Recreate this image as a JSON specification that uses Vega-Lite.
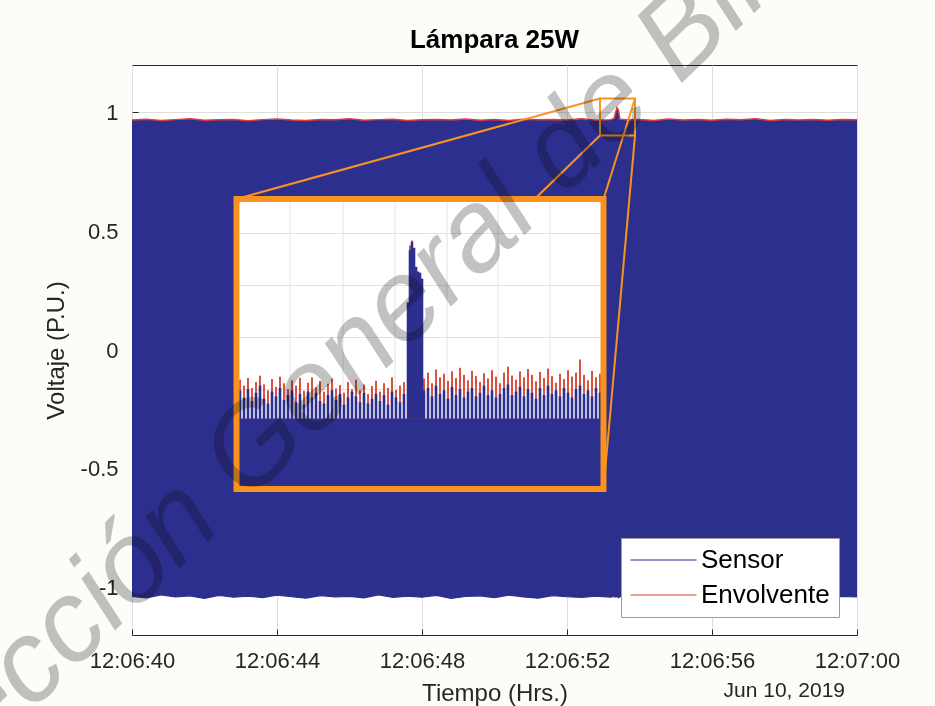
{
  "$schema": "https://vega.github.io/schema/vega-lite/v6.json",
  "width": 725,
  "height": 570,
  "autosize": {"type": "none"},
  "padding": {"left": 132, "top": 65, "right": 78, "bottom": 71},
  "background": "#fcfcf8",
  "config": {
    "view": {"stroke": "#262626", "strokeWidth": 1, "fill": "#ffffff"},
    "axis": {"labelFont": "Liberation Sans", "titleFont": "Liberation Sans", "labelColor": "#262626", "titleColor": "#262626", "titleFontWeight": "normal", "gridColor": "#dedede", "gridWidth": 1, "domain": false, "tickColor": "#262626", "labelFlush": false, "labelOverlap": false}
  },
  "datasets": {
    "main": [
      {"t":0.0,"hi":0.968,"lo":-1.038},{"t":0.4,"hi":0.972,"lo":-1.044},{"t":0.8,"hi":0.966,"lo":-1.031},{"t":1.2,"hi":0.970,"lo":-1.040},
      {"t":1.6,"hi":0.974,"lo":-1.035},{"t":2.0,"hi":0.967,"lo":-1.046},{"t":2.4,"hi":0.969,"lo":-1.033},{"t":2.8,"hi":0.971,"lo":-1.041},
      {"t":3.2,"hi":0.965,"lo":-1.036},{"t":3.6,"hi":0.970,"lo":-1.043},{"t":4.0,"hi":0.973,"lo":-1.032},{"t":4.4,"hi":0.968,"lo":-1.039},
      {"t":4.8,"hi":0.966,"lo":-1.045},{"t":5.2,"hi":0.971,"lo":-1.034},{"t":5.6,"hi":0.969,"lo":-1.040},{"t":6.0,"hi":0.974,"lo":-1.037},
      {"t":6.4,"hi":0.967,"lo":-1.044},{"t":6.8,"hi":0.970,"lo":-1.031},{"t":7.2,"hi":0.972,"lo":-1.042},{"t":7.6,"hi":0.966,"lo":-1.036},
      {"t":8.0,"hi":0.969,"lo":-1.041},{"t":8.4,"hi":0.971,"lo":-1.033},{"t":8.8,"hi":0.968,"lo":-1.046},{"t":9.2,"hi":0.973,"lo":-1.038},
      {"t":9.6,"hi":0.967,"lo":-1.035},{"t":10.0,"hi":0.970,"lo":-1.043},{"t":10.4,"hi":0.966,"lo":-1.032},{"t":10.8,"hi":0.972,"lo":-1.040},
      {"t":11.2,"hi":0.969,"lo":-1.045},{"t":11.6,"hi":0.971,"lo":-1.034},{"t":12.0,"hi":0.968,"lo":-1.039},{"t":12.4,"hi":0.974,"lo":-1.042},
      {"t":12.8,"hi":0.967,"lo":-1.036},{"t":13.2,"hi":0.970,"lo":-1.041},{"t":13.30,"hi":0.975,"lo":-1.038},{"t":13.34,"hi":1.000,"lo":-1.040},
      {"t":13.38,"hi":1.020,"lo":-1.037},{"t":13.42,"hi":1.008,"lo":-1.043},{"t":13.46,"hi":0.972,"lo":-1.039},{"t":13.6,"hi":0.969,"lo":-1.035},
      {"t":14.0,"hi":0.971,"lo":-1.044},{"t":14.4,"hi":0.966,"lo":-1.033},{"t":14.8,"hi":0.973,"lo":-1.040},{"t":15.2,"hi":0.968,"lo":-1.037},
      {"t":15.6,"hi":0.970,"lo":-1.045},{"t":16.0,"hi":0.967,"lo":-1.032},{"t":16.4,"hi":0.972,"lo":-1.041},{"t":16.8,"hi":0.969,"lo":-1.036},
      {"t":17.2,"hi":0.974,"lo":-1.043},{"t":17.6,"hi":0.966,"lo":-1.034},{"t":18.0,"hi":0.970,"lo":-1.039},{"t":18.4,"hi":0.968,"lo":-1.046},
      {"t":18.8,"hi":0.971,"lo":-1.035},{"t":19.2,"hi":0.967,"lo":-1.042},{"t":19.6,"hi":0.970,"lo":-1.038},{"t":20.0,"hi":0.969,"lo":-1.040}
    ],
    "connectors": [
      {"t":12.910,"v":1.059,"t2":2.883,"v2":0.6358},
      {"t":13.876,"v":1.059,"t2":13.007,"v2":0.6358},
      {"t":12.910,"v":0.903,"t2":2.883,"v2":-0.5853},
      {"t":13.876,"v":0.903,"t2":13.007,"v2":-0.5853}
    ],
    "zoombox": [{"t":12.910,"t2":13.876,"v":1.059,"v2":0.903}],
    "insetbox": [{"t":2.883,"t2":13.007,"v":0.6358,"v2":-0.5853}],
    "insetbase": [{"t":2.883,"t2":13.007,"v":-0.5853,"v2":-0.288}],
    "insetgrid": [
      {"t":4.359,"t2":4.359,"v":0.6358,"v2":-0.5853},{"t":5.821,"t2":5.821,"v":0.6358,"v2":-0.5853},
      {"t":7.255,"t2":7.255,"v":0.6358,"v2":-0.5853},{"t":8.690,"t2":8.690,"v":0.6358,"v2":-0.5853},
      {"t":10.097,"t2":10.097,"v":0.6358,"v2":-0.5853},{"t":11.531,"t2":11.531,"v":0.6358,"v2":-0.5853},
      {"t":2.883,"t2":13.007,"v":0.4905,"v2":0.4905},{"t":2.883,"t2":13.007,"v":0.2716,"v2":0.2716},
      {"t":2.883,"t2":13.007,"v":0.0526,"v2":0.0526},{"t":2.883,"t2":13.007,"v":-0.1663,"v2":-0.1663},
      {"t":2.883,"t2":13.007,"v":-0.3853,"v2":-0.3853}
    ],
    "insetnoise": [
      {"t":2.979,"r":-0.125,"b":-0.170},{"t":3.090,"r":-0.150,"b":-0.200},{"t":3.200,"r":-0.118,"b":-0.165},{"t":3.310,"r":-0.160,"b":-0.215},
      {"t":3.421,"r":-0.135,"b":-0.180},{"t":3.531,"r":-0.108,"b":-0.150},{"t":3.641,"r":-0.145,"b":-0.205},{"t":3.752,"r":-0.170,"b":-0.225},
      {"t":3.862,"r":-0.122,"b":-0.175},{"t":3.972,"r":-0.155,"b":-0.195},{"t":4.083,"r":-0.112,"b":-0.160},{"t":4.193,"r":-0.140,"b":-0.210},
      {"t":4.303,"r":-0.165,"b":-0.190},{"t":4.414,"r":-0.128,"b":-0.170},{"t":4.524,"r":-0.150,"b":-0.220},{"t":4.634,"r":-0.118,"b":-0.185},
      {"t":4.745,"r":-0.172,"b":-0.230},{"t":4.855,"r":-0.138,"b":-0.175},{"t":4.965,"r":-0.115,"b":-0.200},{"t":5.076,"r":-0.158,"b":-0.180},
      {"t":5.186,"r":-0.130,"b":-0.215},{"t":5.296,"r":-0.175,"b":-0.225},{"t":5.407,"r":-0.142,"b":-0.190},{"t":5.517,"r":-0.120,"b":-0.170},
      {"t":5.628,"r":-0.162,"b":-0.210},{"t":5.738,"r":-0.148,"b":-0.185},{"t":5.848,"r":-0.180,"b":-0.230},{"t":5.959,"r":-0.135,"b":-0.200},
      {"t":6.069,"r":-0.165,"b":-0.175},{"t":6.179,"r":-0.125,"b":-0.195},{"t":6.290,"r":-0.170,"b":-0.220},{"t":6.400,"r":-0.145,"b":-0.180},
      {"t":6.510,"r":-0.185,"b":-0.225},{"t":6.621,"r":-0.152,"b":-0.205},{"t":6.731,"r":-0.130,"b":-0.185},{"t":6.841,"r":-0.175,"b":-0.215},
      {"t":6.952,"r":-0.140,"b":-0.190},{"t":7.062,"r":-0.160,"b":-0.230},{"t":7.172,"r":-0.115,"b":-0.175},{"t":7.283,"r":-0.168,"b":-0.200},
      {"t":7.393,"r":-0.150,"b":-0.220},{"t":7.503,"r":-0.135,"b":-0.185},{"t":7.614,"r":0.200,"b":0.200},{"t":7.669,"r":0.440,"b":0.420},
      {"t":7.724,"r":0.461,"b":0.455},{"t":7.779,"r":0.430,"b":0.430},{"t":7.834,"r":0.350,"b":0.350},{"t":7.890,"r":0.330,"b":0.330},
      {"t":7.945,"r":0.325,"b":0.325},{"t":8.000,"r":0.300,"b":0.300},{"t":8.055,"r":-0.120,"b":-0.170},{"t":8.166,"r":-0.095,"b":-0.160},
      {"t":8.276,"r":-0.140,"b":-0.195},{"t":8.386,"r":-0.082,"b":-0.150},{"t":8.497,"r":-0.115,"b":-0.185},{"t":8.607,"r":-0.100,"b":-0.170},
      {"t":8.717,"r":-0.130,"b":-0.205},{"t":8.828,"r":-0.090,"b":-0.155},{"t":8.938,"r":-0.118,"b":-0.190},{"t":9.048,"r":-0.075,"b":-0.165},
      {"t":9.159,"r":-0.105,"b":-0.200},{"t":9.269,"r":-0.128,"b":-0.175},{"t":9.379,"r":-0.088,"b":-0.160},{"t":9.490,"r":-0.110,"b":-0.195},
      {"t":9.600,"r":-0.135,"b":-0.180},{"t":9.710,"r":-0.098,"b":-0.150},{"t":9.821,"r":-0.120,"b":-0.190},{"t":9.931,"r":-0.085,"b":-0.170},
      {"t":10.041,"r":-0.112,"b":-0.200},{"t":10.152,"r":-0.140,"b":-0.185},{"t":10.262,"r":-0.095,"b":-0.160},{"t":10.372,"r":-0.070,"b":-0.145},
      {"t":10.483,"r":-0.108,"b":-0.190},{"t":10.593,"r":-0.125,"b":-0.175},{"t":10.703,"r":-0.090,"b":-0.155},{"t":10.814,"r":-0.115,"b":-0.195},
      {"t":10.924,"r":-0.080,"b":-0.165},{"t":11.034,"r":-0.105,"b":-0.180},{"t":11.145,"r":-0.132,"b":-0.205},{"t":11.255,"r":-0.092,"b":-0.160},
      {"t":11.366,"r":-0.118,"b":-0.190},{"t":11.476,"r":-0.078,"b":-0.150},{"t":11.586,"r":-0.110,"b":-0.185},{"t":11.697,"r":-0.138,"b":-0.170},
      {"t":11.807,"r":-0.100,"b":-0.195},{"t":11.917,"r":-0.122,"b":-0.160},{"t":12.028,"r":-0.085,"b":-0.180},{"t":12.138,"r":-0.112,"b":-0.200},
      {"t":12.248,"r":-0.095,"b":-0.165},{"t":12.359,"r":-0.040,"b":-0.150},{"t":12.469,"r":-0.105,"b":-0.185},{"t":12.579,"r":-0.128,"b":-0.170},
      {"t":12.690,"r":-0.088,"b":-0.195},{"t":12.800,"r":-0.115,"b":-0.160},{"t":12.910,"r":-0.100,"b":-0.180}
    ],
    "title": [{"label":"Lámpara 25W","t":10,"v":1.2}],
    "notes": [{"label":"Jun 10, 2019","t":20,"v":-1.2}],
    "watermark": [{"label":"Dirección General de Bibliotecas","t":8.91,"v":0.406}]
  },
  "layer": [
    {
      "data": {"name": "main"},
      "mark": {"type": "area", "color": "#2d2f8e", "opacity": 1},
      "encoding": {
        "x": {"field": "t", "type": "quantitative", "scale": {"domain": [0, 20], "nice": false, "zero": false},
          "axis": {"values": [0, 4, 8, 12, 16, 20], "labelExpr": "datum.value == 20 ? '12:07:00' : '12:06:' + (40 + datum.value)", "title": "Tiempo (Hrs.)", "grid": true, "tickSize": -6, "labelFontSize": 22, "labelPadding": 21, "titleFontSize": 24, "titlePadding": 10}},
        "y": {"field": "hi", "type": "quantitative", "scale": {"domain": [-1.2, 1.2], "nice": false, "zero": false},
          "axis": {"values": [-1, -0.5, 0, 0.5, 1], "labelExpr": "toString(datum.value)", "title": "Voltaje (P.U.)", "grid": true, "tickSize": -6, "labelFontSize": 22, "labelPadding": 20, "titleFontSize": 24, "titlePadding": 12}},
        "y2": {"field": "lo"}
      }
    },
    {
      "data": {"name": "main"},
      "mark": {"type": "line", "strokeWidth": 1.2},
      "encoding": {
        "x": {"field": "t", "type": "quantitative"},
        "y": {"field": "lo", "type": "quantitative"},
        "color": {"datum": "Sensor", "type": "nominal",
          "scale": {"domain": ["Sensor", "Envolvente"], "range": ["#2d2f8e", "#e03c31"]},
          "legend": {"title": null, "orient": "bottom-right", "offset": 18, "fillColor": "#ffffff", "strokeColor": "#9a9a9a", "padding": 9,
            "labelFont": "Liberation Sans", "labelFontSize": 26, "labelColor": "#000000", "labelOffset": 4, "rowPadding": 9,
            "symbolType": "stroke", "symbolSize": 4356, "symbolStrokeWidth": 1, "clipHeight": 26}}
      }
    },
    {
      "data": {"name": "main"},
      "mark": {"type": "line", "strokeWidth": 1.5},
      "encoding": {
        "x": {"field": "t", "type": "quantitative"},
        "y": {"field": "hi", "type": "quantitative"},
        "color": {"datum": "Envolvente", "type": "nominal"}
      }
    },
    {
      "data": {"name": "connectors"},
      "mark": {"type": "rule", "color": "#f7931e", "strokeWidth": 2},
      "encoding": {
        "x": {"field": "t", "type": "quantitative"}, "x2": {"field": "t2"},
        "y": {"field": "v", "type": "quantitative"}, "y2": {"field": "v2"}
      }
    },
    {
      "data": {"name": "zoombox"},
      "mark": {"type": "rect", "filled": false, "color": "#f7931e", "strokeWidth": 2},
      "encoding": {
        "x": {"field": "t", "type": "quantitative"}, "x2": {"field": "t2"},
        "y": {"field": "v", "type": "quantitative"}, "y2": {"field": "v2"}
      }
    },
    {
      "data": {"name": "insetbox"},
      "mark": {"type": "rect", "color": "#ffffff"},
      "encoding": {
        "x": {"field": "t", "type": "quantitative"}, "x2": {"field": "t2"},
        "y": {"field": "v", "type": "quantitative"}, "y2": {"field": "v2"}
      }
    },
    {
      "data": {"name": "insetgrid"},
      "mark": {"type": "rule", "color": "#e2e2e2", "strokeWidth": 1},
      "encoding": {
        "x": {"field": "t", "type": "quantitative"}, "x2": {"field": "t2"},
        "y": {"field": "v", "type": "quantitative"}, "y2": {"field": "v2"}
      }
    },
    {
      "data": {"name": "insetbase"},
      "mark": {"type": "rect", "color": "#2d2f8e"},
      "encoding": {
        "x": {"field": "t", "type": "quantitative"}, "x2": {"field": "t2"},
        "y": {"field": "v", "type": "quantitative"}, "y2": {"field": "v2"}
      }
    },
    {
      "data": {"name": "insetnoise"},
      "mark": {"type": "rule", "color": "#d9523f", "strokeWidth": 2},
      "encoding": {
        "x": {"field": "t", "type": "quantitative"},
        "y": {"field": "r", "type": "quantitative"},
        "y2": {"datum": -0.29}
      }
    },
    {
      "data": {"name": "insetnoise"},
      "mark": {"type": "rule", "color": "#2d2f8e", "strokeWidth": 2.6},
      "encoding": {
        "x": {"field": "t", "type": "quantitative"},
        "y": {"field": "b", "type": "quantitative"},
        "y2": {"datum": -0.29}
      }
    },
    {
      "data": {"name": "insetbox"},
      "mark": {"type": "rect", "filled": false, "color": "#f7931e", "strokeWidth": 6},
      "encoding": {
        "x": {"field": "t", "type": "quantitative"}, "x2": {"field": "t2"},
        "y": {"field": "v", "type": "quantitative"}, "y2": {"field": "v2"}
      }
    },
    {
      "data": {"name": "title"},
      "mark": {"type": "text", "align": "center", "baseline": "middle", "dy": -25, "font": "Liberation Sans", "fontWeight": "bold", "fontSize": 26, "color": "#000000"},
      "encoding": {
        "x": {"field": "t", "type": "quantitative"},
        "y": {"field": "v", "type": "quantitative"},
        "text": {"field": "label"}
      }
    },
    {
      "data": {"name": "notes"},
      "mark": {"type": "text", "align": "right", "baseline": "middle", "dx": -12, "dy": 56, "font": "Liberation Sans", "fontSize": 21, "color": "#262626"},
      "encoding": {
        "x": {"field": "t", "type": "quantitative"},
        "y": {"field": "v", "type": "quantitative"},
        "text": {"field": "label"}
      }
    },
    {
      "data": {"name": "watermark"},
      "mark": {"type": "text", "align": "center", "baseline": "middle", "angle": -44, "font": "Liberation Sans", "fontStyle": "italic", "fontSize": 115, "color": "#c2c2c2", "blend": "multiply"},
      "encoding": {
        "x": {"field": "t", "type": "quantitative"},
        "y": {"field": "v", "type": "quantitative"},
        "text": {"field": "label"}
      }
    }
  ]
}
